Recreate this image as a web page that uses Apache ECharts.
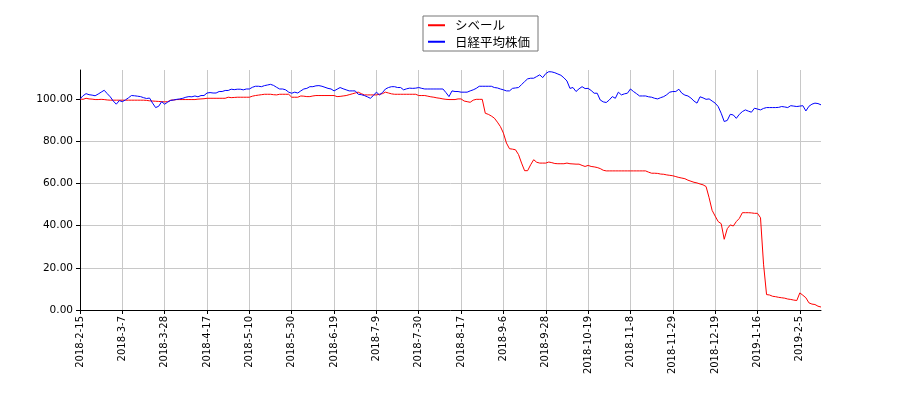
<!DOCTYPE html>
<html>
<head>
<meta charset="utf-8">
<script src="https://cdn.jsdelivr.net/npm/echarts@6/dist/echarts.min.js"></script>
<style>
html,body{margin:0;padding:0;background:#fff;}
#chart{width:900px;height:400px;}
</style>
</head>
<body>
<div id="chart"></div>
<script>
// Trading calendar (Tokyo Stock Exchange), 2018-02-15 .. 2019-02-15
const startDate = '2018-02-15';
const endDate = '2019-02-15';
const holidays = ['2018-3-21','2018-4-30','2018-5-3','2018-5-4','2018-7-16','2018-9-17','2018-9-24',
  '2018-10-8','2018-11-23','2018-12-24','2018-12-31','2019-1-1','2019-1-2','2019-1-3','2019-1-14','2019-2-11'];

const seriesNames = ['シベール', '日経平均株価'];

const sibelValues = [
  100,99.8,100.3,100,99.9,99.7,99.7,99.8,99.7,99.5,
  99.4,99.4,99.4,99.4,99.4,99.4,99.4,99.4,99.4,99.4,
  99.4,99.4,99.3,99.1,99,98.9,98.8,98.7,98.6,98.7,
  99.4,99.5,99.7,99.7,99.7,99.7,99.7,99.7,99.7,99.9,
  100,100.1,100.3,100.3,100.3,100.3,100.3,100.3,100.3,100.8,
  100.6,100.7,100.8,100.8,100.8,100.8,100.8,101.3,101.6,101.8,
  102,102.2,102.2,102.2,102,101.9,102.2,102.2,102.2,102.2,
  100.8,100.8,100.8,101.4,101.3,101.1,101.1,101.4,101.6,101.6,
  101.6,101.6,101.6,101.6,101.6,101.1,101.2,101.4,101.6,102,
  102.4,102.8,103.2,102.5,101.9,101.9,101.9,101.9,101.9,102.2,
  102.5,103.2,102.8,102.4,102.2,102.2,102.2,102.2,102.2,102.2,
  102.2,102.2,101.6,101.6,101.6,101.3,101,100.8,100.5,100.3,
  100,99.8,99.7,99.7,99.7,100,100,99,98.7,98.4,
  99.4,99.8,99.8,99.8,93.2,92.7,91.9,90.9,89,86.9,
  83.8,79.1,76.4,76.2,75.9,73.6,69.6,66,66,68.8,
  71.2,70,69.6,69.6,69.6,70.1,69.8,69.4,69.3,69.3,
  69.3,69.6,69.3,69.2,69.1,69.1,68.5,68,68.5,68,
  67.8,67.5,67,66.2,65.9,65.9,65.9,65.9,65.9,65.9,
  65.9,65.9,65.9,65.9,65.9,65.9,65.9,65.9,65.3,64.8,
  64.8,64.7,64.4,64.3,64,63.8,63.6,63.2,62.8,62.5,
  62.2,61.5,61,60.5,60.2,59.7,59.3,58.5,53.2,47.2,
  44.5,41.9,40.9,33.5,38.5,40.3,39.8,41.9,43.4,46.1,
  46.1,46.1,46,45.8,45.8,43.7,21.7,7.3,7.1,6.5,
  6.3,6,5.8,5.6,5.2,5,4.7,4.5,8.1,7,
  5.8,3.4,2.8,2.6,1.8,1.4
];

const nikkeiValues = [
  100,101.5,102.5,102,101.8,101.5,102.3,103.2,104.1,102.5,
  101,99,97.5,99.2,98.7,99.5,100.5,101.6,101.5,101.3,
  101.1,100.6,100.2,100.4,98,95.9,96.5,98.7,97.5,98.5,
  99.3,99.5,99.8,100,100.3,100.8,101.1,101,101.4,101,
  101.6,101.6,102.8,103,102.8,102.8,103.5,103.5,104,104,
  104.6,104.4,104.6,104.6,104.3,104.7,104.7,105.5,106,106,
  105.8,106.3,106.6,106.9,106.4,105.5,104.7,104.7,104.3,103.2,
  102.7,103.2,102.8,103.8,104.7,105,105.8,105.8,106.2,106.3,
  106,105.5,105,104.7,103.8,104.6,105.4,104.8,104.3,103.8,
  103.8,103.8,102.2,102,101.6,101,100.3,101.6,103.2,101.9,
  103,104.7,105.4,105.8,105.8,105.4,105.4,104.3,104.8,105.1,
  105,105.1,105.4,105,104.7,104.7,104.7,104.7,104.7,104.7,
  104.7,103,101.1,103.8,103.5,103.5,103.2,103.2,103.2,103.8,
  104.3,105,106,106,106,106,106,105.4,105.2,104.7,
  104.3,103.8,103.8,105,105.2,105.4,106.8,108.2,109.5,109.8,
  109.8,110.6,111.4,110.1,112,112.9,112.8,112.4,111.8,111.2,
  110,108.5,105,105.4,103.5,104.8,105.8,104.9,105,104,
  102.7,102.7,99.5,98.6,98.3,99.5,101.1,100.3,103.2,101.9,
  102.4,102.7,104.7,103.5,102.5,101.4,101.4,101.4,101,100.8,
  100.3,100,100.6,101.1,102,103.2,103.5,103.5,104.6,102.7,
  101.8,101.4,100.4,99,98,101,100.5,99.8,100,99,
  98,96.4,93.2,89.3,89.8,92.7,92.4,90.8,92.7,94,
  94.8,94.2,93.7,95.6,95.2,94.8,95.5,95.9,95.9,95.9,
  95.9,96,96.4,96.2,95.9,96.8,96.6,96.4,96.6,96.8,
  94.3,96.5,97.5,98,97.8,97.2
];

const yTickValues = [0, 20, 40, 60, 80, 100];

// build category list of trading days
function buildDates() {
  const out = [];
  const hol = new Set(holidays);
  const s = startDate.split('-').map(Number);
  const e = endDate.split('-').map(Number);
  let d = new Date(Date.UTC(s[0], s[1]-1, s[2]));
  const end = new Date(Date.UTC(e[0], e[1]-1, e[2]));
  while (d <= end) {
    const wd = d.getUTCDay();
    const key = d.getUTCFullYear() + '-' + (d.getUTCMonth()+1) + '-' + d.getUTCDate();
    if (wd !== 0 && wd !== 6 && !hol.has(key)) out.push(key);
    d = new Date(d.getTime() + 86400000);
  }
  return out;
}
const categories = buildDates();

const chart = echarts.init(document.getElementById('chart'), null, {renderer: 'canvas'});
const FONT = 'DejaVu Sans';
chart.setOption({
  animation: false,
  backgroundColor: '#ffffff',
  grid: {left: 80, right: 79, top: 70, bottom: 90, containLabel: false},
  legend: {
    data: seriesNames,
    orient: 'vertical',
    left: 423,
    top: 16,
    padding: [3, 8, 3, 5],
    itemGap: 4,
    itemWidth: 17,
    itemHeight: 2,
    icon: 'rect',
    borderColor: '#777',
    borderWidth: 1,
    backgroundColor: '#ffffff',
    textStyle: {fontFamily: 'Noto Sans CJK JP', fontSize: 12.5, color: '#000', padding: [0, 0, 0, 5]}
  },
  xAxis: {
    type: 'category',
    data: categories,
    boundaryGap: false,
    axisLine: {lineStyle: {color: '#000', width: 1}},
    axisTick: {interval: 13, length: 4, lineStyle: {color: '#000'}},
    axisLabel: {interval: 13, rotate: 90, margin: 6, fontFamily: FONT, fontSize: 10, color: '#000'},
    splitLine: {show: true, interval: 13, lineStyle: {color: '#c8c8c8', width: 1}}
  },
  yAxis: {
    type: 'value',
    min: 0,
    max: 113.7,
    interval: 20,
    axisLine: {show: true, lineStyle: {color: '#000', width: 1}},
    axisTick: {show: true, length: 4, lineStyle: {color: '#000'}, customValues: yTickValues},
    axisLabel: {
      fontFamily: FONT, fontSize: 10.5, color: '#000', margin: 7,
      customValues: yTickValues,
      formatter: v => (v % 20 === 0 ? v.toFixed(2) : '')
    },
    splitLine: {show: true, showMaxLine: false, lineStyle: {color: '#c8c8c8', width: 1}}
  },
  series: [
    {
      name: seriesNames[0], type: 'line', data: sibelValues, showSymbol: false, symbol: 'none',
      lineStyle: {color: '#ff0000', width: 1}, itemStyle: {color: '#ff0000'}
    },
    {
      name: seriesNames[1], type: 'line', data: nikkeiValues, showSymbol: false, symbol: 'none',
      lineStyle: {color: '#0000ff', width: 1}, itemStyle: {color: '#0000ff'}
    }
  ]
});
</script>
</body>
</html>
